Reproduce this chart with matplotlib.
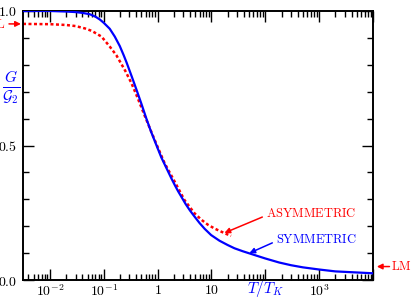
import matplotlib
matplotlib.use('Agg')
import matplotlib.pyplot as plt
import numpy as np
from matplotlib.ticker import FixedLocator, FixedFormatter, LogLocator, NullFormatter, MultipleLocator

plt.rcParams['mathtext.fontset'] = 'cm'

# symmetric curve
t_sym = [0.00316, 0.01, 0.02, 0.03, 0.04, 0.055, 0.07, 0.085, 0.1, 0.129,
         0.16, 0.198, 0.235, 0.267, 0.33, 0.404, 0.5, 0.618, 0.75, 0.88,
         1.0, 1.17, 1.35, 1.55, 1.8, 2.07, 2.4, 2.75, 3.3, 4.0,
         4.84, 6.0, 7.5, 9.86, 14.1, 20.0, 26.7, 38.0, 50.6, 75.0,
         100, 181, 300, 500, 1000, 2000, 5000, 10000]
g_sym = [1.000, 1.000, 0.998, 0.996, 0.993, 0.988, 0.979, 0.968, 0.956, 0.934,
         0.905, 0.870, 0.835, 0.807, 0.757, 0.708, 0.655, 0.600, 0.553, 0.518,
         0.490, 0.456, 0.430, 0.405, 0.378, 0.354, 0.330, 0.310, 0.283, 0.258,
         0.236, 0.212, 0.190, 0.167, 0.146, 0.130, 0.118, 0.107, 0.099, 0.088,
         0.080, 0.065, 0.055, 0.047, 0.039, 0.032, 0.028, 0.025]

# asymmetric curve (dotted)
t_asym = [0.00316, 0.01, 0.02, 0.03, 0.045, 0.06, 0.0906, 0.129, 0.172, 0.2,
          0.25, 0.326, 0.4, 0.464, 0.58, 0.711, 0.946, 1.35, 2.07, 3.16,
          4.84, 6.5, 8.5, 11.5, 15.1, 19.0, 23.1]
g_asym = [0.952, 0.951, 0.948, 0.944, 0.935, 0.926, 0.905, 0.868, 0.835, 0.812,
          0.778, 0.732, 0.690, 0.658, 0.609, 0.566, 0.506, 0.434, 0.366, 0.297,
          0.248, 0.224, 0.206, 0.191, 0.180, 0.171, 0.164]

xtick_pos = [1e-2, 1e-1, 1, 10, 100, 1e3, 1e4]
xtick_lab = [r'$10^{-2}$', r'$10^{-1}$', r'$1$', r'$10$', '', r'$10^3$', '']
ytick_pos = [0.0, 0.5, 1.0]
ytick_lab = [r'$0.0$', r'$0.5$', r'$1.0$']

blue = '#0000ff'
red = '#ff0000'

fig = plt.figure(figsize=(4.11, 2.99), dpi=100)
ax = fig.add_axes([23/411, 19/299, 350/411, 269/299])

ax.plot(t_sym, g_sym, color=blue, lw=1.6, zorder=3)
ax.plot(t_asym, g_asym, color=red, lw=1.8, linestyle=(0, (1.2, 1.0)), zorder=2)

ax.set_xscale('log')
ax.set_xlim(10**-2.5, 1e4)
ax.set_ylim(0, 1)

ax.xaxis.set_major_locator(FixedLocator(xtick_pos))
ax.xaxis.set_major_formatter(FixedFormatter(xtick_lab))
ax.xaxis.set_minor_locator(LogLocator(base=10, subs=np.arange(2, 10), numticks=20))
ax.xaxis.set_minor_formatter(NullFormatter())
ax.yaxis.set_major_locator(FixedLocator(ytick_pos))
ax.yaxis.set_major_formatter(FixedFormatter(ytick_lab))
ax.yaxis.set_minor_locator(MultipleLocator(0.1))

ax.tick_params(which='both', direction='in', top=True, right=True, width=1.0, labelsize=10)
ax.tick_params(which='major', length=8)
ax.tick_params(axis='x', which='major', pad=2.5)
ax.tick_params(axis='y', which='major', pad=4)
ax.tick_params(which='minor', length=4.5)
for s in ax.spines.values():
    s.set_linewidth(1.4)

# axis labels
ax.text(-0.034, 0.714, r'$\frac{G}{\mathcal{G}_2}$', color=blue, fontsize=16,
        transform=ax.transAxes, ha='center', va='center')
ax.text(100, -0.035, r'$T/T_K$', color=blue, fontsize=11,
        transform=ax.get_xaxis_transform(), ha='center', va='center')

arrow = dict(arrowstyle='-|>', lw=1.1, mutation_scale=8, shrinkA=0, shrinkB=0)

ax.annotate('', xy=(17.4, 0.175), xytext=(88, 0.234), arrowprops=dict(arrow, color=red))
ax.text(104, 0.249, r'$\mathrm{ASYMMETRIC}$', color=red, fontsize=9, ha='left', va='center')

ax.annotate('', xy=(50.6, 0.100), xytext=(135, 0.138), arrowprops=dict(arrow, color=blue))
ax.text(160, 0.149, r'$\mathrm{SYMMETRIC}$', color=blue, fontsize=9, ha='left', va='center')

# side markers
ax.annotate('', xy=(1.011, 0.05), xytext=(1.047, 0.05), xycoords='axes fraction',
            arrowprops=dict(arrow, color=red), annotation_clip=False)
ax.text(1.052, 0.05, r'$\mathrm{LM}$', color=red, fontsize=9, ha='left', va='center',
        transform=ax.transAxes)
ax.annotate('', xy=(-0.006, 0.952), xytext=(-0.04, 0.952), xycoords='axes fraction',
            arrowprops=dict(arrow, color=red), annotation_clip=False)
ax.text(-0.051, 0.948, r'$\mathrm{L}$', color=red, fontsize=9, ha='right', va='center',
        transform=ax.transAxes)

fig.savefig('out.png', dpi=100)
